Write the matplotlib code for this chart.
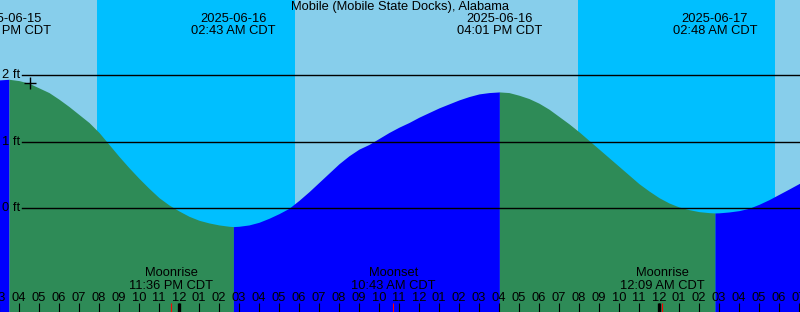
import math
import matplotlib
matplotlib.use("Agg")
import matplotlib.pyplot as plt
import matplotlib.transforms as mtrans

plt.rcParams['font.family'] = ['Liberation Sans', 'DejaVu Sans']

# ---- data (hours since 2025-06-15 00:00 CDT, heights in ft) ----
title = "Mobile (Mobile State Docks), Alabama"
view_start, view_end = 15.05, 55.05

tide_hours = [15.0, 15.5, 16.0, 16.5, 17.0, 17.5, 18.0, 18.5, 19.0, 19.5,
              20.0, 20.5, 21.0, 21.5, 22.0, 22.5, 23.0, 23.5, 24.0, 24.5,
              25.0, 25.5, 26.0, 26.5, 26.72, 27.0, 27.5, 28.0, 28.5, 29.0,
              29.5, 30.0, 30.5, 31.0, 31.5, 32.0, 32.5, 33.0, 33.5, 34.0,
              34.5, 35.0, 35.5, 36.0, 36.5, 37.0, 37.5, 38.0, 38.5, 39.0,
              39.5, 40.02, 40.5, 41.0, 41.5, 42.0, 42.5, 43.0, 43.5, 44.0,
              44.5, 45.0, 45.5, 46.0, 46.5, 47.0, 47.5, 48.0, 48.5, 49.0,
              49.5, 50.0, 50.5, 50.8, 51.0, 51.5, 52.0, 52.5, 53.0, 53.5,
              54.0, 54.5, 55.05]
tide_ft = [1.93, 1.94, 1.92, 1.88, 1.81, 1.74, 1.64, 1.53, 1.41, 1.29,
           1.14, 0.96, 0.78, 0.61, 0.45, 0.30, 0.16, 0.05, -0.04, -0.12,
           -0.18, -0.22, -0.25, -0.27, -0.275, -0.27, -0.25, -0.21, -0.15, -0.08,
           0.00, 0.12, 0.25, 0.39, 0.53, 0.67, 0.79, 0.89, 0.96, 1.05,
           1.14, 1.22, 1.29, 1.37, 1.44, 1.51, 1.57, 1.63, 1.68, 1.72,
           1.74, 1.75, 1.74, 1.70, 1.65, 1.58, 1.49, 1.38, 1.27, 1.15,
           1.02, 0.89, 0.76, 0.63, 0.50, 0.37, 0.26, 0.16, 0.08, 0.02,
           -0.02, -0.05, -0.065, -0.07, -0.068, -0.055, -0.035, 0.00, 0.06, 0.13,
           0.21, 0.29, 0.38]

extreme_hours = [15.5, 26.72, 40.02, 50.8]
extreme_kinds = ["High", "Low", "High", "Low"]
extreme_dates = ["2025-06-15", "2025-06-16", "2025-06-16", "2025-06-17"]
extreme_times = ["03:30 PM CDT", "02:43 AM CDT", "04:01 PM CDT", "02:48 AM CDT"]

night_starts = [19.90, 43.97]
night_ends = [29.80, 53.80]

moon_hours = [23.60, 34.72, 48.15]
moon_events = ["Moonrise", "Moonset", "Moonrise"]
moon_times = ["11:36 PM CDT", "10:43 AM CDT", "12:09 AM CDT"]

midnight_hours = [24, 48]
grid_levels = [0, 1, 2]
grid_labels = ["0 ft", "1 ft", "2 ft"]

mark_hour, mark_ft = 16.55, 1.89

# ---- figure ----
W, H = 800, 312
fig = plt.figure(figsize=(W / 100, H / 100), dpi=100)
ax = fig.add_axes([0, 0, 1, 1])
ymin, ymax = -1.559, 3.132
ax.set_xlim(view_start, view_end)
ax.set_ylim(ymin, ymax)
ax.axis("off")

day_c, night_c = "#87CEEB", "#00BFFF"
rise_c, fall_c = "#0000FF", "#2E8B57"

ax.axvspan(view_start, view_end, color=day_c, lw=0, zorder=0)
for s, e in zip(night_starts, night_ends):
    ax.axvspan(s, e, color=night_c, lw=0, zorder=0.5)

# tide fill, coloured by direction (rising = blue, falling = green)
bounds = [tide_hours[0]] + extreme_hours + [tide_hours[-1]]
for i in range(len(bounds) - 1):
    a, b = bounds[i], bounds[i + 1]
    if i < len(extreme_kinds):
        col = rise_c if extreme_kinds[i] == "High" else fall_c
    else:
        col = rise_c if extreme_kinds[-1] == "Low" else fall_c
    sel = [(t, h) for t, h in zip(tide_hours, tide_ft) if a - 1e-9 <= t <= b + 1e-9]
    ts = [p[0] for p in sel]
    hs = [p[1] for p in sel]
    ax.fill_between(ts, hs, ymin, color=col, lw=0, zorder=1)

fs = 9.3
# grid lines and labels
xfrac0 = 22 / W
lt = mtrans.blended_transform_factory(ax.transAxes, ax.transData)
for lvl, lab in zip(grid_levels, grid_labels):
    ax.axhline(lvl, xmin=xfrac0, xmax=1, color="black", lw=1.0, zorder=2)
    ax.text(2 / W, lvl, lab, transform=lt, ha="left", va="center", fontsize=fs, zorder=3)

ax.plot([mark_hour], [mark_ft], marker="+", color="black", ms=8, mew=1.0, zorder=3)

bt = mtrans.blended_transform_factory(ax.transData, ax.transAxes)

# title and extreme labels
ax.text(0.5, 1 - 7 / H, title, transform=ax.transAxes, ha="center", va="center",
        fontsize=fs, zorder=4)
for t, d, tm in zip(extreme_hours, extreme_dates, extreme_times):
    ax.text(t, 1 - 19.5 / H, d, transform=bt, ha="center", va="center", fontsize=fs, zorder=4)
    ax.text(t, 1 - 31.5 / H, tm, transform=bt, ha="center", va="center", fontsize=fs, zorder=4)

# moon events
for t, ev, tm in zip(moon_hours, moon_events, moon_times):
    ax.text(t, (H - 273) / H, ev, transform=bt, ha="center", va="center", fontsize=fs, zorder=4)
    ax.text(t, (H - 286) / H, tm, transform=bt, ha="center", va="center", fontsize=fs, zorder=4)

# hour ticks and labels
hours = list(range(math.ceil(view_start - 1), int(view_end) + 1))
tick_top = 9 / H
ax.vlines(hours, 0, tick_top, transform=bt, color="black", lw=0.8, zorder=4)
for hr in hours:
    lab = "%02d" % ((hr % 12) or 12)
    ax.text(hr, (H - 298) / H, lab, transform=bt, ha="center", va="center",
            fontsize=fs, zorder=4)
ax.vlines(moon_hours, 0, tick_top, transform=bt, color="red", lw=0.8, zorder=5)
ax.vlines(midnight_hours, 0, tick_top, transform=bt, color="black", lw=2.4, zorder=5)

fig.savefig("out.png", dpi=100)
